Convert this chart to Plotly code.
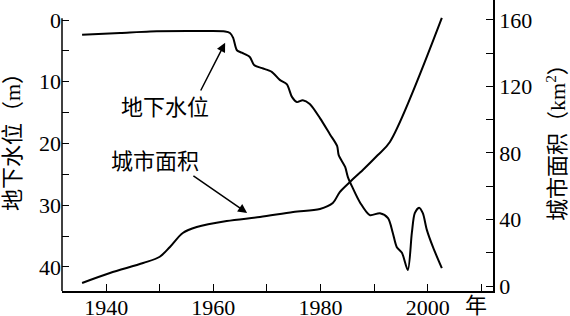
import plotly.graph_objects as go

# Groundwater level (m, left axis, reversed)
years_gw = [1935.5, 1942.6, 1948.2, 1957.5, 1962.2, 1963.1, 1963.7, 1964.4, 1965.3, 1966.8,
            1967.6, 1969.1, 1970.9, 1972.4, 1973.7, 1974.7, 1975.6, 1976.7, 1978.0, 1979.9,
            1981.75, 1983.1, 1983.4, 1984.6, 1985.1, 1985.9, 1987.4, 1989.2, 1991.1, 1992.6,
            1993.5, 1994.25, 1995.2, 1996.3, 1997.05, 1997.6, 1998.4, 1999.1, 1999.85, 2001.0,
            2002.65]
level_gw = [2.4, 2.1, 1.85, 1.8, 1.85, 2.1, 2.9, 4.9, 5.3, 6.0,
            7.3, 7.8, 8.4, 9.7, 10.4, 12.5, 13.3, 13.0, 13.6, 15.9,
            18.5, 20.4, 21.9, 23.8, 25.4, 27.0, 29.6, 31.6, 31.3, 32.1,
            34.5, 36.8, 37.7, 40.5, 34.5, 31.3, 30.4, 31.3, 34.0, 36.8,
            40.2]

# Urban area (km^2, right axis)
years_city = [1935.5, 1940.7, 1946.9, 1950.0, 1951.9, 1954.3, 1956.9, 1962.5, 1968.7, 1974.9,
              1979.9, 1982.3, 1983.6, 1985.5, 1987.9, 1990.7, 1992.95, 2002.65]
area_city = [1.8, 7.8, 13.8, 17.6, 23.5, 31.9, 35.5, 39.1, 41.5, 44.5,
             46.3, 49.9, 56.5, 62.6, 69.8, 78.8, 86.6, 161.2]

x_ticks = [1940, 1960, 1980, 2000]
left_ticks = [0, 10, 20, 30, 40]
right_ticks = [0, 40, 80, 120, 160]

FONT = "Liberation Serif, Noto Sans CJK SC, serif"

fig = go.Figure()
fig.add_trace(go.Scatter(x=years_gw, y=level_gw, mode="lines", yaxis="y",
                         line=dict(color="black", width=2, shape="spline", smoothing=0.8),
                         showlegend=False, hoverinfo="skip"))
fig.add_trace(go.Scatter(x=years_city, y=area_city, mode="lines", yaxis="y2",
                         line=dict(color="black", width=2, shape="spline", smoothing=0.9),
                         showlegend=False, hoverinfo="skip"))

tick_style = dict(ticks="inside", ticklen=7, tickwidth=1.2, tickcolor="black")

fig.update_layout(
    width=570, height=316,
    margin=dict(l=62, r=77, t=0, b=25),
    paper_bgcolor="white", plot_bgcolor="white",
    font=dict(family=FONT, size=22, color="black"),
    xaxis=dict(range=[1931.75, 2012.2], tickvals=x_ticks, **tick_style,
               minor=dict(dtick=10, tick0=1940, **tick_style),
               showline=True, linecolor="black", linewidth=1.5, showgrid=False, zeroline=False,
               tickfont=dict(size=22), ticklabelstandoff=-4, automargin=False),
    yaxis=dict(range=[43.9, -3.24], tickvals=left_ticks, **tick_style,
               minor=dict(dtick=5, tick0=0, **tick_style), automargin=False,
               showline=False, showgrid=False, zeroline=False, tickfont=dict(size=22)),
    yaxis2=dict(range=[-3, 172], overlaying="y", side="right", tickvals=right_ticks,
                **tick_style, minor=dict(dtick=20, tick0=0, **tick_style), automargin=False,
                showline=True, linecolor="black", linewidth=1.5, showgrid=False, zeroline=False,
                tickfont=dict(size=22)),
)

# left axis line (starts slightly above 0)
fig.add_shape(type="line", xref="paper", yref="y", x0=0, x1=0, y0=-0.3, y1=43.9,
              line=dict(color="black", width=1.5))

# axis titles
fig.add_annotation(text="地下水位（m）", xref="paper", yref="paper", x=-0.116, y=0.529,
                   xanchor="center", yanchor="middle",
                   textangle=-90, showarrow=False, font=dict(size=22))
fig.add_annotation(text="城市面积（km<sup>2</sup>）", xref="paper", yref="paper", x=1.146, y=0.529,
                   xanchor="center", yanchor="middle",
                   textangle=-90, showarrow=False, font=dict(size=22))
fig.add_annotation(text="年", xref="x", yref="paper", x=2009.0, y=-0.05,
                   xanchor="center", yanchor="middle", showarrow=False, font=dict(size=22))

# labels with arrows
fig.add_annotation(text="地下水位", xref="x", yref="y", x=1951.0, y=14.25,
                   xanchor="center", yanchor="middle", showarrow=False, font=dict(size=22))
fig.add_annotation(text="", xref="x", yref="y", x=1962.2, y=3.7,
                   axref="x", ayref="y", ax=1957.5, ay=11.66,
                   showarrow=True, arrowhead=2, arrowsize=1.2, arrowwidth=1.5, arrowcolor="black")
fig.add_annotation(text="城市面积", xref="x", yref="y", x=1949.1, y=23.0,
                   xanchor="center", yanchor="middle", showarrow=False, font=dict(size=22))
fig.add_annotation(text="", xref="x", yref="y", x=1966.3, y=31.25,
                   axref="x", ayref="y", ax=1956.0, ay=25.1,
                   showarrow=True, arrowhead=2, arrowsize=1.2, arrowwidth=1.5, arrowcolor="black")

fig.write_html("out.html")
